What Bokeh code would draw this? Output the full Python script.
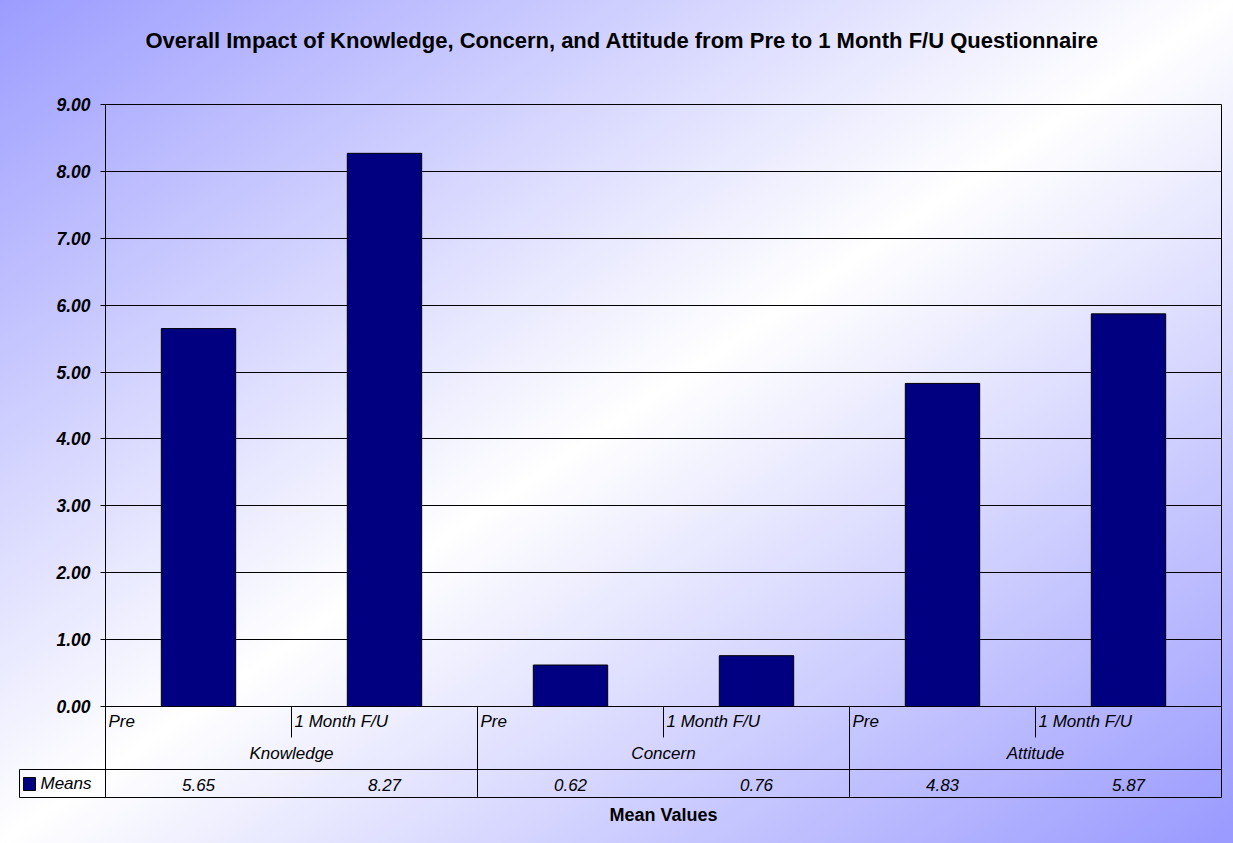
from bokeh.plotting import figure
from bokeh.models import (FactorRange, Range1d, FixedTicker, ColumnDataSource,
                          Title, GlobalInlineStyleSheet)
from bokeh.core.properties import value
from bokeh.embed import file_html
from bokeh.resources import INLINE

# ---------------- data ----------------
groups = ["Knowledge", "Concern", "Attitude"]
timepoints = ["Pre", "1 Month F/U"]
means = [5.65, 8.27, 0.62, 0.76, 4.83, 5.87]
y_ticks = [0, 1, 2, 3, 4, 5, 6, 7, 8, 9]
y_tick_labels = ["0.00", "1.00", "2.00", "3.00", "4.00", "5.00", "6.00", "7.00", "8.00", "9.00"]
series_name = "Means"
title_text = "Overall Impact of Knowledge, Concern, and Attitude from Pre to 1 Month F/U Questionnaire"
x_title = "Mean Values"

# ---------------- layout constants ----------------
FONT = "Liberation Sans"
NAVY = "#000080"
PX = 9 / 602.0           # data units per pixel (vertical)
Y_BOTTOM = -91 * PX      # bottom of table row
Y_INNER = -31 * PX       # bottom of inner separators
Y_TABLE = -63 * PX       # top of data-table row
Y_SUB = -15 * PX         # sub-category label row
Y_GROUP = -47 * PX       # group label row
Y_VALUE = -78 * PX       # values row
SLOT = 186.0             # px per category slot
SHIFT = 24               # canvas is raised by this many px (empty strip above the title)

factors = [(g, t) for g in groups for t in timepoints]
src = ColumnDataSource(dict(x=factors, top=means,
                            label=["%.2f" % m for m in means],
                            sub=[t for g in groups for t in timepoints]))

p = figure(width=1233, height=843 + SHIFT,
           x_range=FactorRange(*factors, factor_padding=0, group_padding=0,
                               subgroup_padding=0, range_padding=0),
           y_range=Range1d(Y_BOTTOM, 9),
           x_axis_location=None, toolbar_location=None, output_backend="svg",
           min_border_left=105, min_border_right=12, min_border_top=104 + SHIFT,
           min_border_bottom=46)
p.styles = {"position": "absolute", "left": "0px", "top": "-%dpx" % SHIFT}

p.background_fill_color = None
p.border_fill_color = None
p.outline_line_color = "black"
p.outline_line_width = 1

p.stylesheets = [GlobalInlineStyleSheet(css=(
    "html{height:100%;background:linear-gradient(to bottom right,#9c9cff 0%,#ffffff 50%,#9999ff 100%);}"
    "body{background:transparent;}"))]

# y axis
p.yaxis.ticker = FixedTicker(ticks=y_ticks)
p.yaxis.major_label_overrides = {t: l for t, l in zip(y_ticks, y_tick_labels)}
p.yaxis.major_label_text_font = FONT
p.yaxis.major_label_text_font_style = "bold italic"
p.yaxis.major_label_text_font_size = "17.5px"
p.yaxis.major_label_text_color = "black"
p.yaxis.major_tick_out = 5
p.yaxis.major_tick_in = 0
p.yaxis.minor_tick_line_color = None
p.yaxis.axis_line_color = "black"
p.yaxis.major_tick_line_color = "black"
p.yaxis.major_label_standoff = 10

p.ygrid.grid_line_color = "black"
p.ygrid.grid_line_width = 1
p.xgrid.visible = False

# bars
bars = p.vbar(x="x", top="top", width=0.4, source=src, fill_color=NAVY,
              line_color="black", line_width=1)

# category axis separators (synthetic coordinates of slot boundaries)
n = len(factors)
inner = [i for i in range(1, n) if i % len(timepoints) != 0]
outer = [i for i in range(1, n) if i % len(timepoints) == 0]
p.segment(x0=inner, x1=inner, y0=[0] * len(inner), y1=[Y_INNER] * len(inner), line_color="black")
p.segment(x0=outer, x1=outer, y0=[0] * len(outer), y1=[Y_BOTTOM] * len(outer), line_color="black")
p.segment(x0=[0], x1=[n], y0=[Y_TABLE], y1=[Y_TABLE], line_color="black")

# category labels
p.text(x="x", y=Y_SUB, text="sub", source=src, x_offset=-SLOT / 2 + 3,
       text_align="left", text_baseline="middle", text_font=value(FONT),
       text_font_style="italic", text_font_size="17px", text_color="black")
p.text(x=groups, y=[Y_GROUP] * len(groups), text=groups,
       text_align="center", text_baseline="middle", text_font=value(FONT),
       text_font_style="italic", text_font_size="17px", text_color="black")
# data table values
p.text(x="x", y=Y_VALUE, text="label", source=src,
       text_align="center", text_baseline="middle", text_font=value(FONT),
       text_font_style="italic", text_font_size="17px", text_color="black")

# titles (side panels)
p.add_layout(Title(text=title_text, align="left", offset=40, text_font=FONT,
                   text_font_style="bold", text_font_size="22px", text_color="black",
                   vertical_align="top", standoff=100), "above")
p.add_layout(Title(text=x_title, align="center", text_font=FONT,
                   text_font_style="bold", text_font_size="18px", text_color="black",
                   standoff=10), "below")

# legend key cell of the data table (small companion figure placed at the table's left)
cell = figure(width=87, height=29, x_range=Range1d(0, 86), y_range=Range1d(0, 28),
              x_axis_location=None, y_axis_location=None, toolbar_location=None,
              output_backend="svg", min_border_left=0, min_border_right=1,
              min_border_top=0, min_border_bottom=1)
cell.background_fill_color = None
cell.border_fill_color = None
cell.outline_line_color = "black"
cell.outline_line_width = 1
cell.xgrid.visible = False
cell.ygrid.visible = False
cell.quad(left=[4], right=[16], top=[20], bottom=[7], fill_color=NAVY,
          line_color="black", line_width=1)
cell.text(x=[21], y=[14], text=[series_name], text_align="left", text_baseline="middle",
          text_font=value(FONT), text_font_style="italic", text_font_size="17px",
          text_color="black")
cell.styles = {"position": "absolute", "left": "19px", "top": "769px"}

open("out.html", "w").write(file_html([p, cell], INLINE))
